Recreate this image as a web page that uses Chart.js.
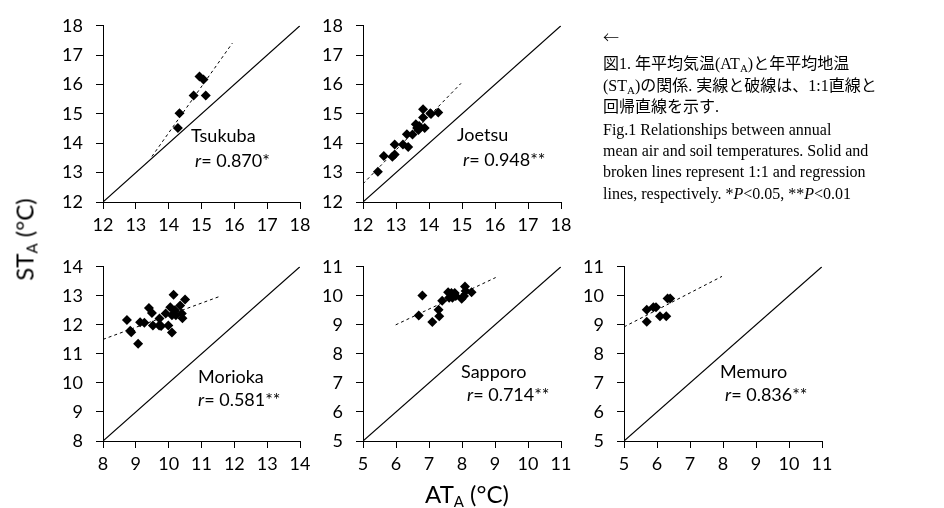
<!DOCTYPE html>
<html>
<head>
<meta charset="utf-8">
<script src="https://cdn.jsdelivr.net/npm/chart.js@4.4.0/dist/chart.umd.min.js"></script>
<style>
  body { margin: 0; background: #fff; width: 944px; height: 508px; position: relative; overflow: hidden; }
  canvas { position: absolute; }
  .lbl { position: absolute; font-family: Lato, sans-serif; font-size: 18px; line-height: 22px; color: #000; white-space: nowrap; }
  .title { position: absolute; font-family: Lato, sans-serif; font-size: 24px; line-height: 28px; color: #000; white-space: nowrap; }
  .title sub { font-size: 15px; vertical-align: -4px; }
  .cap { position: absolute; left: 603px; font-family: 'Liberation Serif', 'Noto Sans CJK JP', serif; font-size: 16px; line-height: 20px; color: #000; white-space: nowrap; }
  .cap sub { font-size: 11px; vertical-align: -3px; }
  .arrow { font-family: 'Noto Sans CJK JP', sans-serif; font-weight: 300; }
</style>
</head>
<body>
<canvas id="tsukubaChart"></canvas>
<canvas id="joetsuChart"></canvas>
<canvas id="moriokaChart"></canvas>
<canvas id="sapporoChart"></canvas>
<canvas id="memuroChart"></canvas>

<div class="lbl" style="left:191px; top:124px">Tsukuba</div>
<div class="lbl" style="left:195px; top:149px"><i>r</i>= 0.870*</div>
<div class="lbl" style="left:457px; top:123px">Joetsu</div>
<div class="lbl" style="left:463px; top:148px"><i>r</i>= 0.948**</div>
<div class="lbl" style="left:198px; top:365px">Morioka</div>
<div class="lbl" style="left:198px; top:388px"><i>r</i>= 0.581**</div>
<div class="lbl" style="left:461px; top:360px">Sapporo</div>
<div class="lbl" style="left:467px; top:383px"><i>r</i>= 0.714**</div>
<div class="lbl" style="left:720px; top:360px">Memuro</div>
<div class="lbl" style="left:725px; top:383px"><i>r</i>= 0.836**</div>

<div class="title" style="left:-22px; top:222px; width:100px; text-align:center; transform: rotate(-90deg);">ST<sub>A</sub> (°C)</div>
<div class="title" style="left:417px; top:480px; width:100px; text-align:center;">AT<sub>A</sub> (°C)</div>

<div class="cap arrow" style="top:26px">←</div>
<div class="cap" style="top:54px">図1. 年平均気温(AT<sub>A</sub>)と年平均地温</div>
<div class="cap" style="top:76px">(ST<sub>A</sub>)の関係. 実線と破線は、1:1直線と</div>
<div class="cap" style="top:97px">回帰直線を示す.</div>
<div class="cap" style="top:120px">Fig.1 Relationships between annual</div>
<div class="cap" style="top:141px">mean air and soil temperatures. Solid and</div>
<div class="cap" style="top:162px">broken lines represent 1:1 and regression</div>
<div class="cap" style="top:184px">lines, respectively. *<i>P</i>&lt;0.05, **<i>P</i>&lt;0.01</div>

<script>
// Tsukuba
const tsukubaRange = [12, 18]
const tsukubaAT = [14.28, 14.33, 14.76, 15.13, 14.94, 15.06]
const tsukubaST = [14.52, 15.02, 15.63, 15.63, 16.27, 16.17]
const tsukubaRegAT = [13.49, 15.94]
const tsukubaRegST = [13.55, 17.41]

// Joetsu
const joetsuRange = [12, 18]
const joetsuAT = [12.45, 12.63, 12.89, 12.96, 12.96, 13.21, 13.33, 13.37, 13.50, 13.60, 13.64, 13.68, 13.70, 13.82, 13.87, 13.82, 14.04, 14.28, 14.06]
const joetsuST = [13.03, 13.57, 13.54, 13.62, 13.96, 13.96, 14.31, 13.87, 14.30, 14.65, 14.52, 14.45, 14.59, 14.88, 14.52, 15.16, 15.02, 15.05, 15.00]
const joetsuRegAT = [12.0, 14.97]
const joetsuRegST = [12.62, 16.04]

// Morioka
const moriokaRange = [8, 14]
const moriokaAT = [8.73, 8.83, 8.86, 9.07, 9.13, 9.26, 9.40, 9.49, 9.52, 9.72, 9.71, 9.77, 9.91, 9.99, 10.05, 10.10, 10.15, 10.10, 10.19, 10.22, 10.35, 10.40, 10.42, 10.50]
const moriokaST = [12.17, 11.80, 11.75, 11.35, 12.09, 12.07, 12.58, 12.41, 11.98, 12.22, 11.98, 11.96, 12.39, 11.98, 12.61, 11.74, 13.04, 12.33, 12.50, 12.33, 12.67, 12.39, 12.23, 12.87]
const moriokaRegAT = [8.0, 11.53]
const moriokaRegST = [11.50, 12.97]

// Sapporo
const sapporoRange = [5, 11]
const sapporoAT = [6.69, 6.80, 7.10, 7.29, 7.31, 7.40, 7.58, 7.61, 7.68, 7.71, 7.78, 7.81, 7.99, 8.06, 8.09, 8.11, 8.29]
const sapporoST = [9.32, 10.01, 9.10, 9.52, 9.30, 9.83, 10.12, 9.93, 10.10, 9.93, 10.10, 9.99, 9.90, 9.99, 10.32, 10.17, 10.12]
const sapporoRegAT = [5.99, 9.02]
const sapporoRegST = [9.00, 10.63]

// Memuro
const memuroRange = [5, 11]
const memuroAT = [5.69, 5.69, 5.89, 5.97, 6.09, 6.28, 6.32, 6.40]
const memuroST = [9.11, 9.52, 9.61, 9.61, 9.30, 9.30, 9.91, 9.91]
const memuroRegAT = [5.0, 7.97]
const memuroRegST = [8.93, 10.67]

// -------------------------

const toPoints = (xs, ys) => xs.map((x, i) => ({ x, y: ys[i] }))

const PAD_LEFT = 70
const PAD_TOP = 14
const PAD_RIGHT = 20
const PAD_BOTTOM = 40

const axisOptions = (range, position) => ({
  type: 'linear',
  position,
  min: range[0],
  max: range[1],
  afterFit(scale) {
    if (position === 'left') scale.width = PAD_LEFT
    else scale.height = PAD_BOTTOM
  },
  ticks: {
    stepSize: 1,
    autoSkip: false,
    maxRotation: 0,
    color: '#000',
    padding: position === 'left' ? 13 : 5,
    font: { family: 'Lato', size: 18 },
  },
  grid: {
    drawOnChartArea: false,
    drawTicks: true,
    tickLength: 7,
    tickColor: '#000',
    color: '#000',
  },
  border: { display: true, color: '#000', width: 1 },
})

// plot area in page pixels: left, top, right, bottom
const makePanel = (id, box, range, at, st, regAT, regST) => {
  const canvas = document.getElementById(id)
  const w = box[2] - box[0]
  const h = box[3] - box[1]
  canvas.width = w + PAD_LEFT + PAD_RIGHT
  canvas.height = h + PAD_TOP + PAD_BOTTOM
  canvas.style.left = box[0] - PAD_LEFT + 'px'
  canvas.style.top = box[1] - PAD_TOP + 'px'

  new Chart(canvas.getContext('2d'), {
    type: 'scatter',
    data: {
      datasets: [
        {
          data: toPoints(range, range),
          showLine: true,
          borderColor: '#000',
          borderWidth: 1.2,
          pointRadius: 0,
        },
        {
          data: toPoints(regAT, regST),
          showLine: true,
          borderColor: '#000',
          borderWidth: 1,
          borderDash: [3, 3],
          pointRadius: 0,
        },
        {
          data: toPoints(at, st),
          pointStyle: 'rectRot',
          pointRadius: 5,
          backgroundColor: '#000',
          borderWidth: 0,
        },
      ],
    },
    options: {
      responsive: false,
      animation: false,
      devicePixelRatio: 1,
      layout: {
        autoPadding: false,
        padding: { left: 0, top: PAD_TOP, right: PAD_RIGHT, bottom: 0 },
      },
      plugins: { legend: { display: false }, tooltip: { enabled: false } },
      scales: {
        x: axisOptions(range, 'bottom'),
        y: axisOptions(range, 'left'),
      },
    },
  })
}

makePanel('tsukubaChart', [103, 16, 300, 202], tsukubaRange, tsukubaAT, tsukubaST, tsukubaRegAT, tsukubaRegST)
makePanel('joetsuChart', [363, 16, 561, 202], joetsuRange, joetsuAT, joetsuST, joetsuRegAT, joetsuRegST)
makePanel('moriokaChart', [103, 257, 300, 441], moriokaRange, moriokaAT, moriokaST, moriokaRegAT, moriokaRegST)
makePanel('sapporoChart', [363, 257, 561, 441], sapporoRange, sapporoAT, sapporoST, sapporoRegAT, sapporoRegST)
makePanel('memuroChart', [624, 257, 822, 441], memuroRange, memuroAT, memuroST, memuroRegAT, memuroRegST)
</script>
</body>
</html>
